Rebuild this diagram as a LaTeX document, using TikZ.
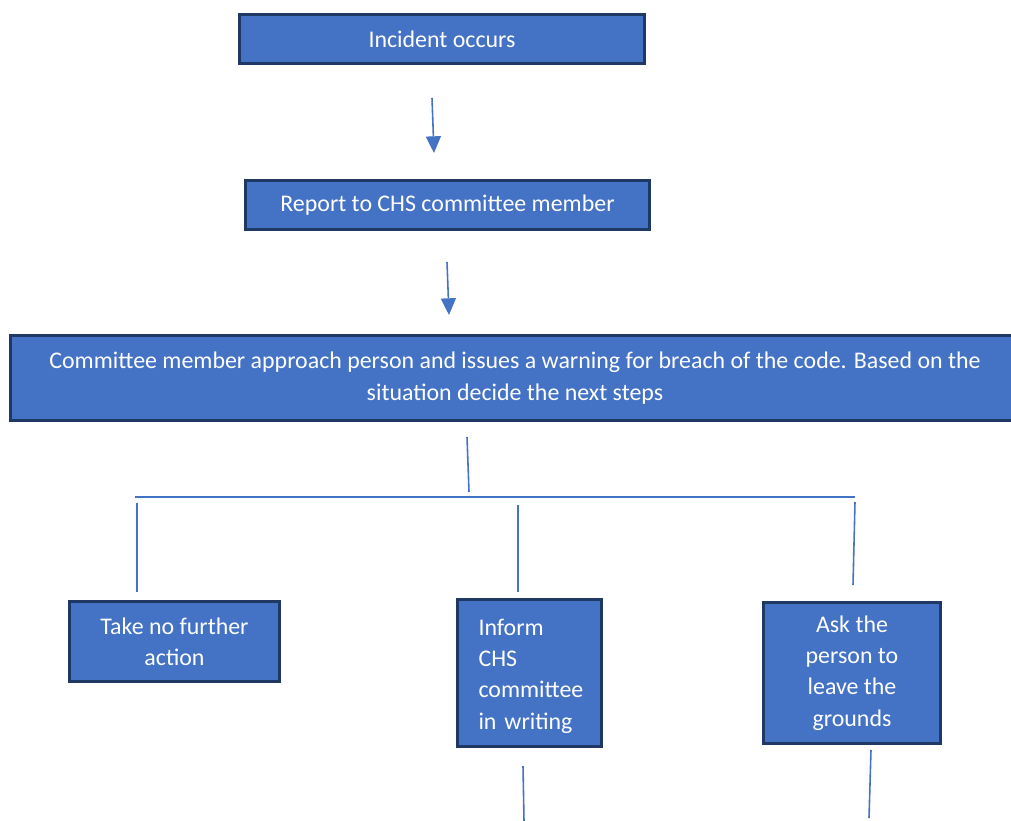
\documentclass[tikz,border=0pt]{standalone}
\usepackage{fontspec}
\setmainfont{Carlito}
\usetikzlibrary
  {
    arrows.meta,  % arrow heads
    positioning,  % place nodes relative to other nodes
  }

\begin{document}
\begin{tikzpicture}
    [
      x=0.02cm, y=-0.02cm,
      % Styles
      stagebox/.style={draw=boxedge, fill=boxfill, line width=1.6pt,
        text=white, font=\fontsize{13.6}{17.8}\selectfont, inner sep=0pt},
      flow/.style={draw=linecolor, line width=0.9pt},
      flowarrow/.style={flow, -{Triangle[length=9.5pt, width=8.5pt]}}
    ]

    % Colors
    \definecolor{boxfill}{HTML}{4472C4}
    \definecolor{boxedge}{HTML}{1F3864}
    \definecolor{linecolor}{HTML}{4472C4}

    \useasboundingbox (0,0) rectangle (1011,821);

    % boxes
    \node [stagebox, minimum width=8.1cm, minimum height=0.98cm] (incident) at (442,39) {Incident occurs};
    \node [stagebox, minimum width=8.08cm, minimum height=0.98cm] (report) at (447.5,205) {Report to CHS committee member};
    \node [stagebox, minimum width=20.2cm, minimum height=1.7cm, align=center] (warning) at (515,378)
      {Committee member approach person and issues a warning for breach of the code. Based on the\\situation decide the next steps};
    \node [stagebox, minimum width=4.2cm, minimum height=1.6cm, align=center] (noaction) at (174.5,641.5) {Take no further\\action};
    \node [stagebox, minimum width=2.88cm, minimum height=2.94cm] (inform) at (529.5,673) {};
    \node [stagebox, draw=none, text width=2.2cm, align=left, anchor=west] (informtext) at ([xshift=0.42cm, yshift=-0.06cm]inform.west) {Inform\\CHS\\committee\\in writing};
    \node [stagebox, minimum width=3.54cm, minimum height=2.82cm, align=center] (leave) at (852,673)
      {Ask the\\person to\\leave the\\grounds};

    % arrows and lines (they stop short of the boxes)
    \coordinate (a1) at (432,98);   \coordinate (a2) at (434,153);
    \coordinate (b1) at (447,262);  \coordinate (b2) at (449,315);
    \draw [flowarrow] (a1) -- (a2);
    \draw [flowarrow] (b1) -- (b2);

    \coordinate (split top) at (467,437);
    \coordinate (split) at (469,492);
    \coordinate (bar left) at (135,497);
    \coordinate (bar right) at (855,497);
    \draw [flow] (split top) -- (split);
    \draw [flow] (bar left) -- (bar right);

    \foreach \name/\xa/\ya/\xb/\yb in {left/137/503/137/592, mid/518/505/518/592, right/855/502/853/585}
    {
      \coordinate (drop \name\space top) at (\xa,\ya);
      \coordinate (drop \name\space end) at (\xb,\yb);
      \draw [flow] (drop \name\space top) -- (drop \name\space end);
    }

    \coordinate (tail1) at (523,766);  \coordinate (end1) at (524,821);
    \coordinate (tail2) at (871,750);  \coordinate (end2) at (869,818);
    \draw [flow] (tail1) -- (end1);
    \draw [flow] (tail2) -- (end2);
  \end{tikzpicture}
\end{document}
